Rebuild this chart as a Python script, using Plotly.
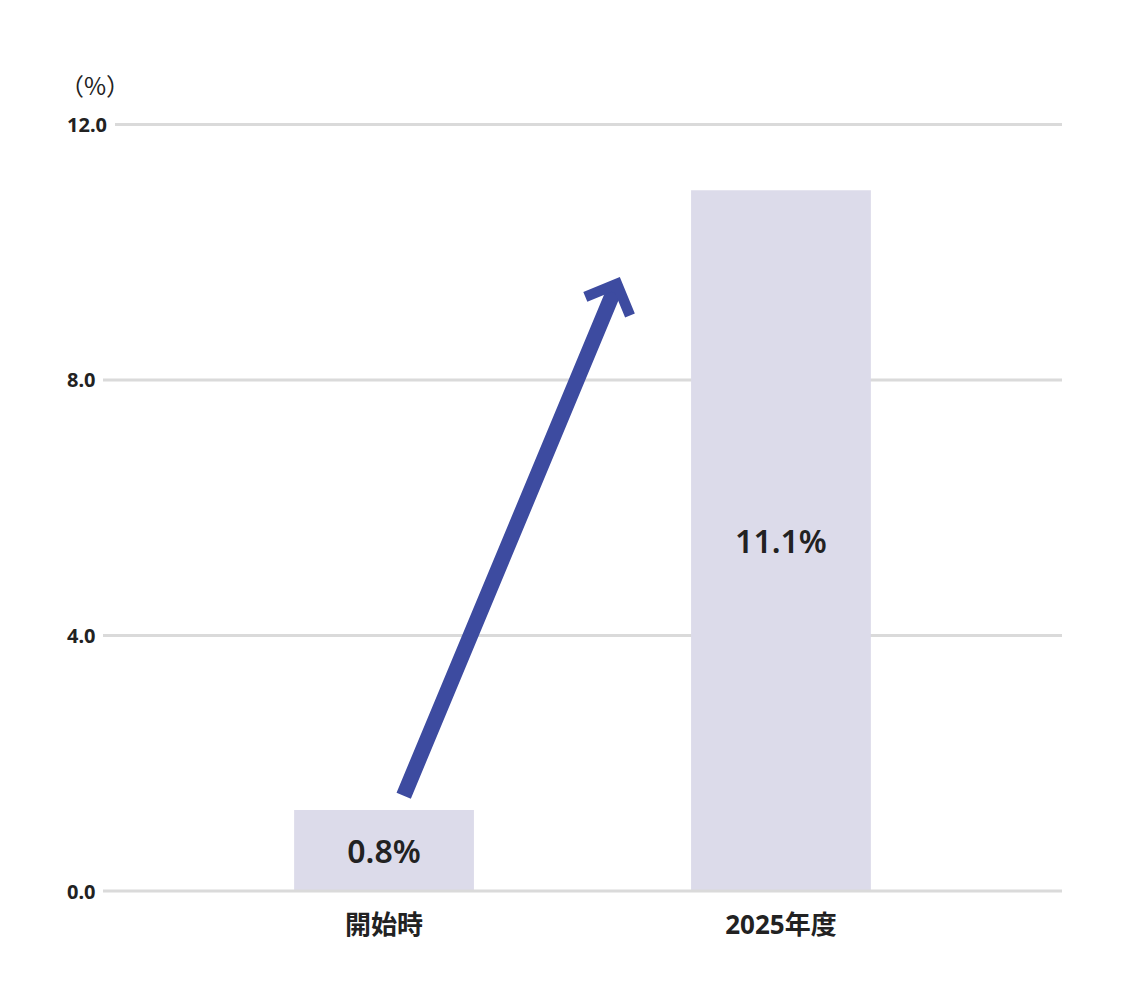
import plotly.graph_objects as go

categories = ["開始時", "2025年度"]
bar_heights = [1.27, 10.97]
value_labels = ["0.8%", "11.1%"]
y_ticks = [0, 4, 8, 12]
y_tick_labels = ["0.0", "4.0", "8.0", "12.0"]

font_family = "Noto Sans, Noto Sans CJK JP"

fig = go.Figure()
fig.add_trace(go.Bar(
    x=categories,
    y=bar_heights,
    text=value_labels,
    textposition="inside",
    insidetextanchor="middle",
    textfont=dict(family=font_family, size=32, color="#222222", weight=600),
    marker=dict(color="#dcdbea", line=dict(width=0)),
    width=0.453,
    hoverinfo="skip",
))

# arrow from the first bar up to the second
fig.add_annotation(
    x=0.594, y=9.61, ax=0.048, ay=1.47,
    xref="x", yref="y", axref="x", ayref="y",
    text="", showarrow=True,
    arrowhead=4, arrowsize=0.6, arrowwidth=15.5, arrowcolor="#3d4ba0",
)

# y tick labels are left-aligned in the original, so place them by hand,
# with the grid lines drawn as shapes (the top one starts after its wider label)
for v, label in zip(y_ticks, y_tick_labels):
    fig.add_annotation(
        x=-0.0396, y=v, xref="paper", yref="y",
        text=label, showarrow=False, xanchor="left", yanchor="middle",
        font=dict(family=font_family, size=20, color="#222222", weight="bold"),
    )
    fig.add_shape(
        type="line", xref="paper", yref="y",
        x0=0.0125 if len(label) > 3 else 0, x1=1, y0=v, y1=v,
        line=dict(color="#dadada", width=3),
        layer="above" if v == 0 else "below",
    )

fig.add_annotation(
    x=-0.0467, y=1.043, xref="paper", yref="paper",
    text="（%）", showarrow=False, xanchor="left", yanchor="middle",
    font=dict(family="Noto Sans CJK JP", size=24, color="#222222"),
)

fig.update_layout(
    width=1126, height=1006,
    margin=dict(l=95, r=72, t=110, b=121),
    paper_bgcolor="white", plot_bgcolor="white",
    showlegend=False,
    font=dict(family=font_family, color="#222222"),
    xaxis=dict(
        range=[-0.708, 1.708],
        showgrid=False, showline=False, zeroline=False,
        ticks="", ticklabelstandoff=14,
        tickfont=dict(family=font_family, size=26, color="#222222", weight="bold"),
    ),
    yaxis=dict(
        range=[-0.03, 12.1],
        showgrid=False, zeroline=False, showticklabels=False,
        showline=False, ticks="",
    ),
)

fig.write_html("out.html")
